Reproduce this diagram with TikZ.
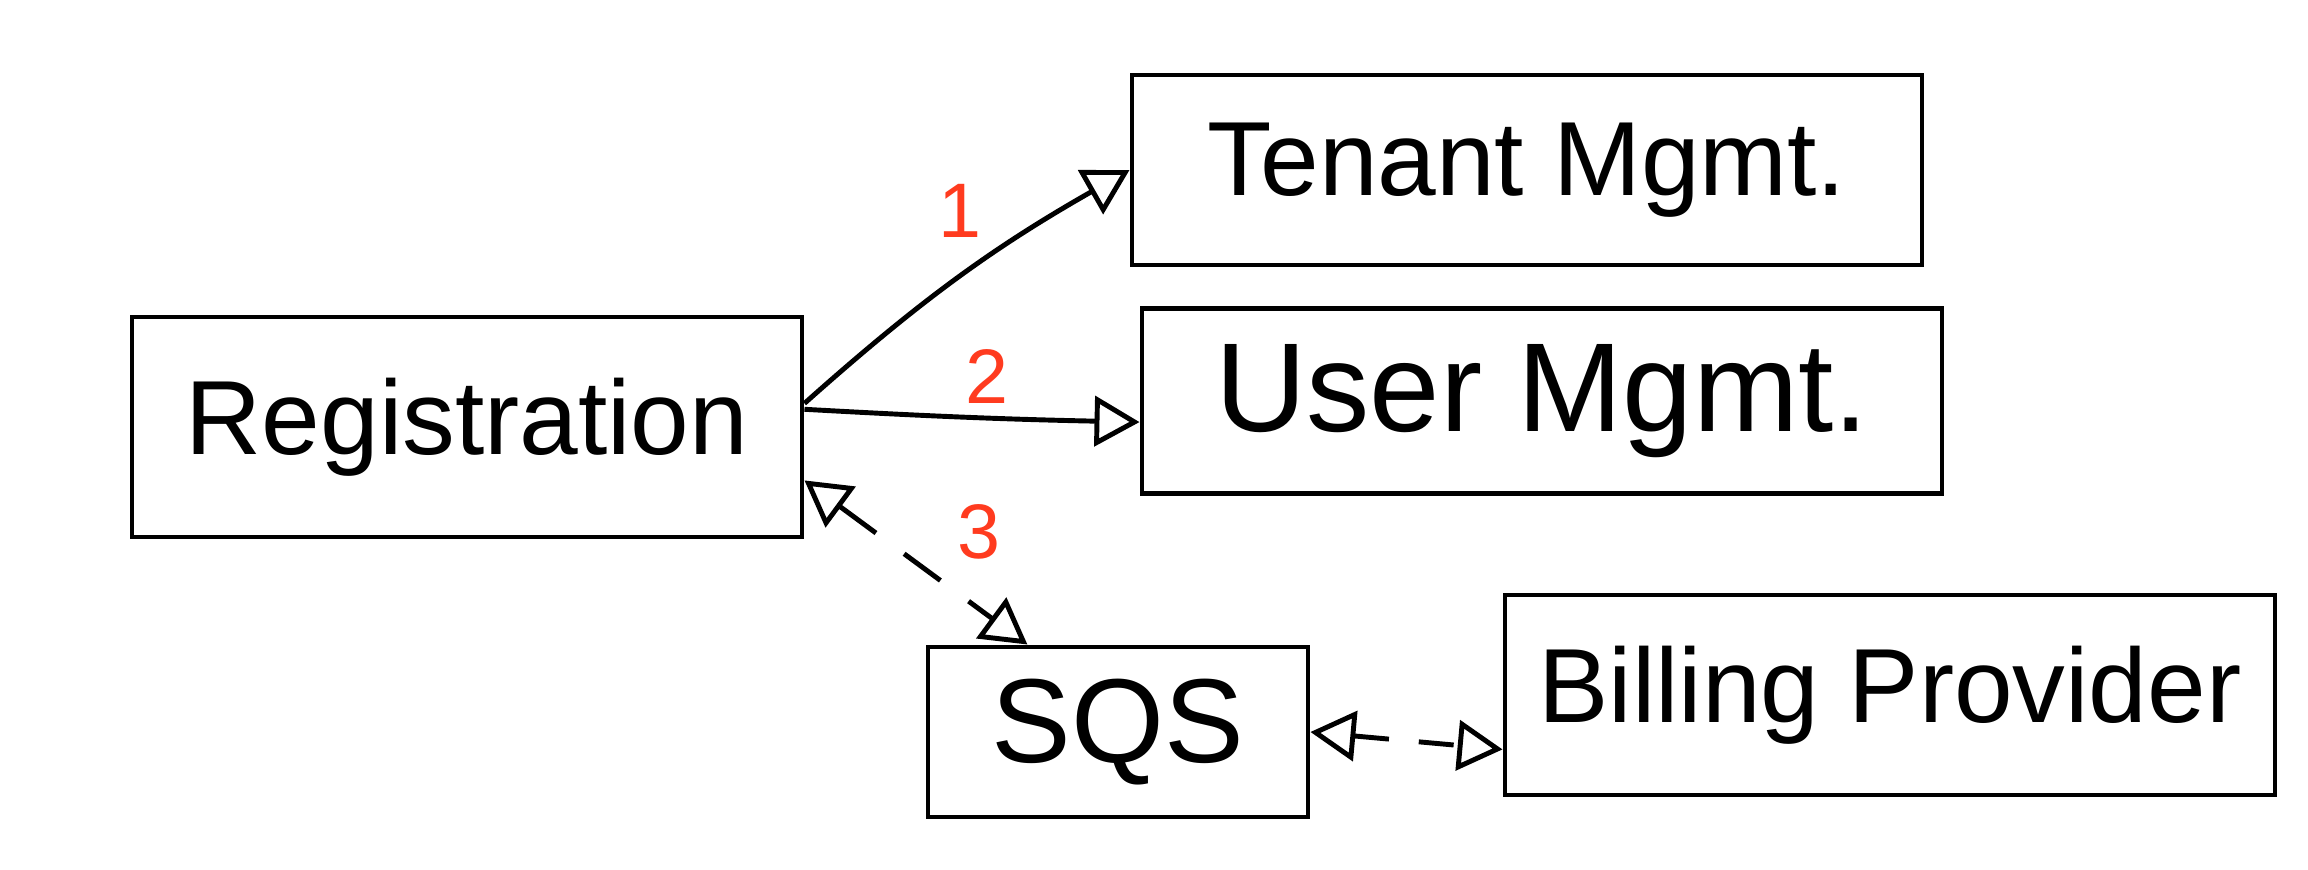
\documentclass[tikz,border=0pt]{standalone}
\usepackage{fontspec}
\setmainfont{Liberation Sans}
\usetikzlibrary{arrows.meta}
\definecolor{penred}{HTML}{FF3B1F}
\begin{document}
\begin{tikzpicture}[every node/.style={draw, line width=1.4pt, font=\fontsize{30}{36}\selectfont}]
\useasboundingbox (0,0) rectangle (23.08,8.70);

\node[minimum width=6.7cm, minimum height=2.2cm] (reg) at (4.67, 4.43) {Registration};
\node[minimum width=7.9cm, minimum height=1.9cm] (tenant) at (15.27, 7.00) {Tenant Mgmt.};
\node[minimum width=8.0cm, minimum height=1.85cm, font=\fontsize{36}{40}\selectfont] (user) at (15.42, 4.69) {User Mgmt.};
\node[minimum width=3.8cm, minimum height=1.7cm, font=\fontsize{34}{40}\selectfont] (sqs) at (11.18, 1.38) {SQS};
\node[minimum width=7.7cm, minimum height=2.0cm] (billing) at (18.90, 1.75) {Billing Provider};

\tikzset{every node/.style={text=penred, font=\fontsize{22}{26}\selectfont}}
\tikzset{mystyle/.style={-{Triangle[open, length=0.45cm, width=0.5cm]}, line width=1.4pt}}
\path (reg.4) edge [mystyle, bend left=6] node[above=0.25cm] (lbl1) {1} (tenant.west);
\path (reg.3) edge [mystyle, bend right=1] node[above, pos=0.55] (lbl2) {2} (user.183);

\tikzset{mystyle/.style={{Triangle[open, length=0.45cm, width=0.5cm]}-{Triangle[open, length=0.45cm, width=0.5cm]}, line width=1.4pt, dash pattern=on 0.45cm off 0.35cm}}
\path (reg.-9) edge [mystyle] node[above right=0.05cm, pos=0.6] (lbl3) {3} (sqs.136);
\path (sqs.east) edge [mystyle, dash pattern=on 0.35cm off 0.3cm] (billing.188);
\end{tikzpicture}
\end{document}
